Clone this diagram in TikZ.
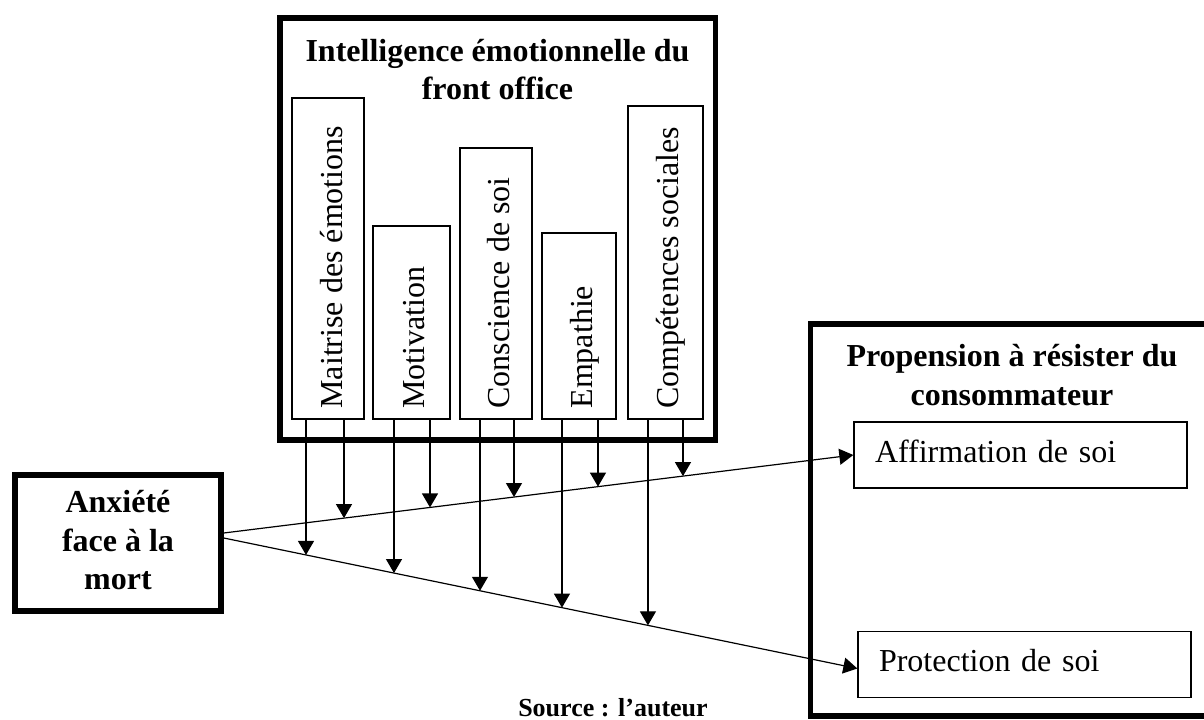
\documentclass[tikz,border=0pt]{standalone}
\usepackage{fontspec}
\setmainfont{Liberation Serif}
\usetikzlibrary{arrows.meta,calc}
\begin{document}
\begin{tikzpicture}[x=1bp,y=-1bp,
  thickbox/.style={draw, line width=5.5bp, inner sep=0pt},
  bar/.style={draw, line width=1.3bp, inner sep=0pt, minimum width=#1},
  ttl/.style={font=\fontsize{32bp}{38.5bp}\selectfont\bfseries, align=center, inner sep=0pt},
  vlab/.style={font=\fontsize{32bp}{38bp}\selectfont, rotate=90, anchor=base west, inner sep=0pt},
  sub/.style={draw, line width=1.3bp, minimum width=333bp, minimum height=66bp,
    text width=291bp, inner xsep=21bp, inner ysep=0pt, align=left,
    font=\fontsize{32bp}{38bp}\selectfont, text height=22bp, text depth=8bp},
  conn/.style={line width=1.2bp, -{Triangle[width=16bp,length=14bp]}},
  src/.style={font=\fontsize{26bp}{30bp}\selectfont\bfseries, inner sep=0pt}
]
\useasboundingbox (0,0) rectangle (1204,720);

% top box
\node[thickbox, minimum width=435.5bp, minimum height=422bp] (ie) at (497.75,229) {};
\node[ttl, anchor=base] (iet) at (497.5,100) {Intelligence émotionnelle du\\front office};

% bars
\node[bar=72bp, minimum height=321bp] (b1) at (328,258.5) {};
\node[bar=77bp, minimum height=193bp] (b2) at (411.5,322.5) {};
\node[bar=72bp, minimum height=271bp] (b3) at (496,283.5) {};
\node[bar=74bp, minimum height=186bp] (b4) at (579,326) {};
\node[bar=75bp, minimum height=313bp] (b5) at (665.5,262.5) {};

\node[vlab] (l1) at ($(b1.south west)+(51,-11)$) {Maitrise des émotions};
\node[vlab] (l2) at ($(b2.south west)+(52,-11)$) {Motivation};
\node[vlab] (l3) at ($(b3.south west)+(50,-11)$) {Conscience de soi};
\node[vlab] (l4) at ($(b4.south west)+(51,-11)$) {Empathie};
\node[vlab] (l5) at ($(b5.south west)+(51,-11)$) {Compétences sociales};

% left box
\node[thickbox, ttl, minimum width=206bp, minimum height=136bp, text depth=6bp] (anx) at (118,543) {Anxiété\\face à la\\mort};

% right box
\node[thickbox, minimum width=404.5bp, minimum height=392bp] (prc) at (1012.75,520) {};
\node[ttl, anchor=base] (prct) at (1012,405) {Propension à résister du\\consommateur};
\node[sub] (aff) at (1020.5,455) {Affirmation de soi};
\node[sub] (pro) at (1024.5,664.5) {Protection de soi};

% main connectors
\coordinate (s1) at ($(anx.east)+(0,-10)$);
\coordinate (s2) at ($(anx.east)+(0,-5)$);
\coordinate (e2) at ($(pro.west)+(0,4)$);
\draw[conn] (s1) -- (aff.west);
\draw[conn] (s2) -- (e2);

\path (s1) -- (aff.west)
  coordinate[pos=0.191] (u1) coordinate[pos=0.3276] (u2) coordinate[pos=0.461] (u3)
  coordinate[pos=0.5944] (u4) coordinate[pos=0.7294] (u5);
\path (s2) -- (e2)
  coordinate[pos=0.1298] (d1) coordinate[pos=0.2687] (d2) coordinate[pos=0.4044] (d3)
  coordinate[pos=0.5338] (d4) coordinate[pos=0.6695] (d5);

\foreach \i in {1,...,5}{
  \draw[conn] (b\i.south -| u\i) -- (u\i);
  \draw[conn] (b\i.south -| d\i) -- (d\i);
}

\node[src, anchor=base] (src) at (613,716) {Source : l’auteur};
\end{tikzpicture}
\end{document}
